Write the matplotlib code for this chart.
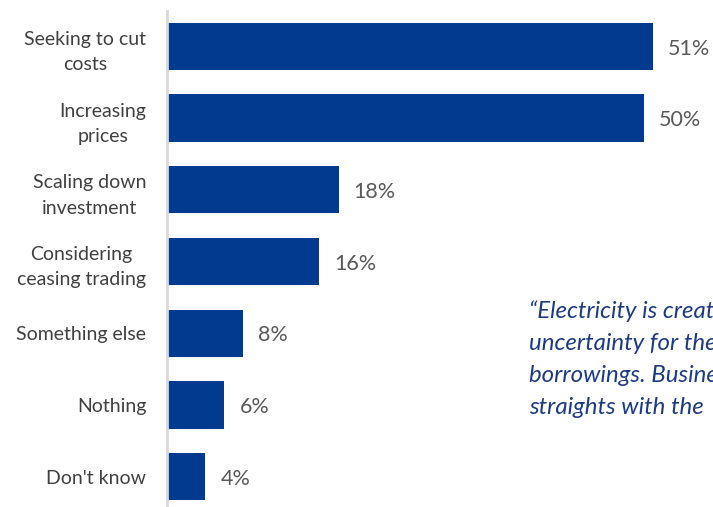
import matplotlib.pyplot as plt

categories = ["Seeking to cut\ncosts", "Increasing\nprices", "Scaling down\ninvestment",
              "Considering\nceasing trading", "Something else", "Nothing", "Don't know"]
values = [51, 50, 18, 16, 8, 6, 4]
quote_lines = ["\u201cElectricity is creating",
               "uncertainty for their",
               "borrowings. Businesses",
               "straights with the"]

bar_color = "#023a8f"
label_gray = "#404040"
value_gray = "#595959"
quote_blue = "#1c3a86"

plt.rcParams["font.family"] = ["Lato", "DejaVu Sans"]

W, H = 713, 507
fig = plt.figure(figsize=(W / 100, H / 100), dpi=100)
ax = fig.add_axes([167 / W, 1 - 512.5 / H, (W - 167) / W, 502 / H])

ypos = list(range(len(categories)))
ax.barh(ypos, values, height=0.66, color=bar_color)
ax.set_ylim(len(categories) - 0.5, -0.5)
ax.set_xlim(0, (W - 167) / 9.53)

ax.set_yticks(ypos)
ax.set_yticklabels(categories, fontsize=14, color=label_gray,
                   multialignment="center", linespacing=1.6)
ax.tick_params(axis="y", length=0, pad=15)
ax.set_xticks([])

for s in ["top", "right", "bottom"]:
    ax.spines[s].set_visible(False)
ax.spines["left"].set_color("#d9d9d9")
ax.spines["left"].set_linewidth(2)

for y, v in zip(ypos, values):
    ax.text(v + 1.6, y + 0.03, f"{v}%", va="center", ha="left", fontsize=15.5, color=value_gray)

for i, line in enumerate(quote_lines):
    fig.text(529 / W, 1 - (311 + i * 32.3) / H, line, fontsize=17.3, style="italic",
             color=quote_blue, va="center", ha="left")

fig.savefig("out.png", dpi=100)
